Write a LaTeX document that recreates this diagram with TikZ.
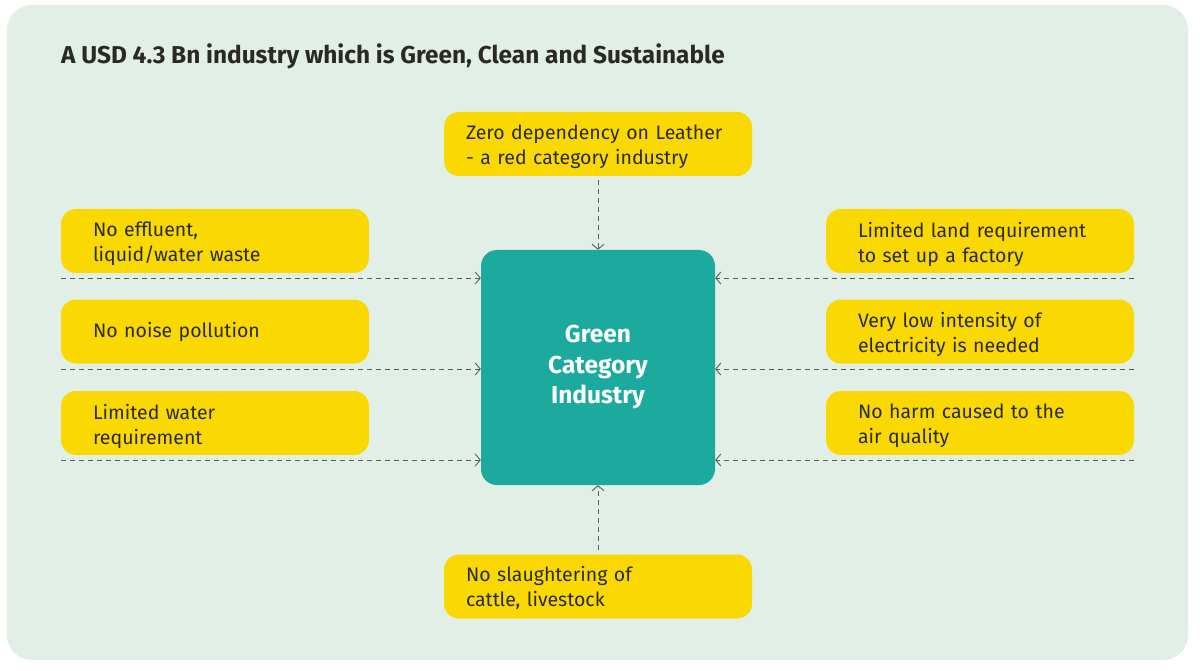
\documentclass[tikz,border=0pt]{standalone}
\usepackage{fontspec}
\setmainfont{Fira Sans}
\usetikzlibrary{arrows.meta}
\definecolor{panel}{HTML}{E1EFE6}
\definecolor{ybox}{HTML}{FAD902}
\definecolor{teal}{HTML}{1BAA9D}
\definecolor{txt}{HTML}{2A2A22}
\definecolor{dline}{HTML}{5A5F5C}
\tikzset{
  ybx/.style={fill=ybox, rounded corners=15pt, minimum width=308pt, minimum height=64pt, inner sep=0pt},
  ytx/.style={text width=244pt, inner sep=0pt, align=left, text=txt,
    font=\fontsize{19.5}{25}\selectfont},
  ytxc/.style={ytx, text width=264pt},
  conn/.style={draw=dline, line width=0.9pt, dash pattern=on 5pt off 4pt,
    -{Straight Barb[length=5pt,width=12pt,line width=0.9pt]}},
}
\begin{document}
\begin{tikzpicture}[x=1pt,y=-1pt]
\useasboundingbox (0,0) rectangle (1200,671);
\fill[white] (0,0) rectangle (1200,671);
\fill[panel, rounded corners=25pt] (7,5) rectangle (1188,660);
\node[anchor=west, text=txt, inner xsep=0pt, font=\fontsize{24.4}{28}\selectfont\bfseries] (title) at (61,56.5) {A USD 4.3 Bn industry which is Green, Clean and Sustainable};
\node[fill=teal, rounded corners=16pt, minimum width=234pt, minimum height=235pt, text=white, align=center,
  font=\fontsize{24.5}{30.5}\selectfont\bfseries] (center) at (598,367.5) {Green\\Category\\Industry};
% boxes
\node[ybx] (top) at (598,144) {};
\node[ybx] (bot) at (598,586.5) {};
\node[ybx] (l1) at (215,241) {};
\node[ybx] (l2) at (215,331.5) {};
\node[ybx] (l3) at (215,423) {};
\node[ybx] (r1) at (980,241) {};
\node[ybx] (r2) at (980,331.5) {};
\node[ybx] (r3) at (980,423) {};
% texts
\node[ytxc] (topt) at ([yshift=-3pt]top.center) {Zero dependency on Leather\\- a red category industry};
\node[ytxc] (bott) at ([yshift=-2pt]bot.center) {No slaughtering of\\cattle, livestock};
\node[ytx] (l1t) at ([yshift=-3pt]l1.center) {No effluent,\\liquid/water waste};
\node[ytx] (l2t) at ([yshift=0pt]l2.center) {No noise pollution};
\node[ytx] (l3t) at ([yshift=-3pt]l3.center) {Limited water\\requirement};
\node[ytx] (r1t) at ([yshift=-3pt]r1.center) {Limited land requirement\\to set up a factory};
\node[ytx] (r2t) at ([yshift=-3pt]r2.center) {Very low intensity of\\electricity is needed};
\node[ytx] (r3t) at ([yshift=-3pt]r3.center) {No harm caused to the\\air quality};
% connectors
\coordinate (la1) at (l1.west |- 0,278);
\coordinate (la2) at (l2.west |- 0,369);
\coordinate (la3) at (l3.west |- 0,460);
\coordinate (ra1) at (r1.east |- 0,278);
\coordinate (ra2) at (r2.east |- 0,369);
\coordinate (ra3) at (r3.east |- 0,460);
\draw[conn] (la1) -- (center.west |- la1);
\draw[conn] (la2) -- (center.west |- la2);
\draw[conn] (la3) -- (center.west |- la3);
\draw[conn] (ra1) -- (center.east |- ra1);
\draw[conn] (ra2) -- (center.east |- ra2);
\draw[conn] (ra3) -- (center.east |- ra3);
\draw[conn] ([yshift=-4pt]top.south) -- (center.north);
\draw[conn] ([yshift=4pt]bot.north) -- (center.south);
\end{tikzpicture}
\end{document}
